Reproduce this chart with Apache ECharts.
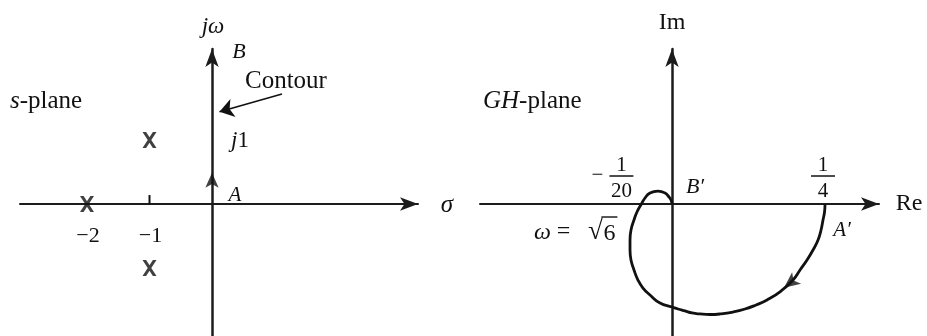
<!DOCTYPE html>
<html>
<head>
<meta charset="utf-8">
<script src="https://cdn.jsdelivr.net/npm/echarts@6/dist/echarts.min.js"></script>
<style>
  html, body { margin: 0; padding: 0; background: #fff; }
  #chart { width: 927px; height: 336px; }
</style>
</head>
<body>
<div id="chart"></div>
<script>
// ---- s-plane: open-loop poles of GH(s) ----
const sPoles = [[-2, 0], [-1, 1], [-1, -1]];
const sTickValues = [-2, -1];
const sTickLabels = ['−2', '−1'];
const sUnitMark = [0, 1];                 // j1 on the jω axis
const contourArrowAt = [0, 0.49];         // direction of travel along the contour
const contourPointer = [[1.12, 1.72], [0.12, 1.44]];

// ---- GH-plane: image of the contour, from A' (ω = 0) round to B' (ω → ∞) ----
const ghRe = [0.2500, 0.2492, 0.2467, 0.2435, 0.2386, 0.2304, 0.2206, 0.2092, 0.1977, 0.1781,
              0.1552, 0.1373, 0.1193, 0.0997, 0.0784, 0.0621, 0.0458, 0.0327, 0.0212, 0.0098,
              0.0000, -0.0196, -0.0359, -0.0474, -0.0556, -0.0621, -0.0670, -0.0686, -0.0686, -0.0670,
              -0.0621, -0.0572, -0.0500, -0.0441, -0.0359, -0.0229, -0.0114, -0.0049, -0.0016, 0.0000];
const ghIm = [0.0000, -0.0131, -0.0261, -0.0425, -0.0588, -0.0752, -0.0915, -0.1078, -0.1242, -0.1422,
              -0.1569, -0.1650, -0.1716, -0.1765, -0.1797, -0.1806, -0.1797, -0.1781, -0.1748, -0.1716,
              -0.1683, -0.1618, -0.1487, -0.1373, -0.1242, -0.1078, -0.0915, -0.0752, -0.0588, -0.0425,
              -0.0261, -0.0131, 0.0000, 0.0098, 0.0180, 0.0212, 0.0180, 0.0114, 0.0065, 0.0000];
const ghArrowAt = [0.1830, -0.1370];
const ghCrossings = [-0.05, 0.25];        // real-axis crossings
const ghCrossSign = ['−', ''];
const ghCrossNum = ['1', '1'];
const ghCrossDen = ['20', '4'];

const INK = '#111';
const AXIS = '#1c1c1c';
const SERIF = '"Liberation Serif", "DejaVu Serif", serif';

const ghCurve = ghRe.map((re, i) => [re, ghIm[i]]);

function axisLineStyle(width) {
  return {
    onZero: true,
    symbol: ['none', 'arrow'],
    symbolSize: [10, 18],
    lineStyle: { color: AXIS, width: width }
  };
}
function plainAxis(extra) {
  return Object.assign({
    type: 'value',
    axisTick: { show: false },
    axisLabel: { show: false },
    splitLine: { show: false }
  }, extra);
}

const chart = echarts.init(document.getElementById('chart'), null, { renderer: 'canvas' });

chart.setOption({
  animation: false,
  backgroundColor: '#fff',
  grid: [
    { left: 20, top: 49, width: 398, height: 287 },
    { left: 480, top: 49, width: 399, height: 287 }
  ],
  xAxis: [
    plainAxis({ gridIndex: 0, min: -3.072, max: 3.296, axisLine: axisLineStyle(2) }),
    plainAxis({ gridIndex: 1, min: -0.3137, max: 0.3382, axisLine: axisLineStyle(2) })
  ],
  yAxis: [
    plainAxis({ gridIndex: 0, min: -2.0625, max: 2.422, axisLine: axisLineStyle(2.5) }),
    plainAxis({ gridIndex: 1, min: -0.2157, max: 0.2533, axisLine: axisLineStyle(2.5) })
  ],
  series: [
    {
      // tick at σ = -1
      type: 'line', xAxisIndex: 0, yAxisIndex: 0, silent: true,
      data: [[sTickValues[1], 0], [sTickValues[1], 0.14]],
      showSymbol: false,
      lineStyle: { color: INK, width: 2 }
    },
    {
      // poles, drawn as bold crosses
      type: 'scatter', xAxisIndex: 0, yAxisIndex: 0, silent: true,
      data: sPoles,
      symbol: 'path://M0,0L3.6,0L14,16L10.4,16ZM10.4,0L14,0L3.6,16L0,16Z',
      symbolSize: [14, 16],
      itemStyle: { color: INK },
      z: 5
    },
    {
      // direction arrow on the jω axis
      type: 'scatter', xAxisIndex: 0, yAxisIndex: 0, silent: true,
      data: [contourArrowAt],
      symbol: 'arrow',
      symbolSize: [10, 15],
      itemStyle: { color: INK },
      z: 5
    },
    {
      // pointer from the "Contour" caption
      type: 'lines', coordinateSystem: 'cartesian2d', xAxisIndex: 0, yAxisIndex: 0, silent: true,
      data: [{ coords: contourPointer }],
      symbol: ['none', 'arrow'],
      symbolSize: [9, 14],
      lineStyle: { color: INK, width: 1.6, opacity: 1 },
      z: 5
    },
    {
      // Nyquist plot
      type: 'line', xAxisIndex: 1, yAxisIndex: 1, silent: true,
      data: ghCurve,
      smooth: 0.5,
      showSymbol: false,
      lineStyle: { color: INK, width: 2.8 },
      z: 4
    },
    {
      // direction arrow on the Nyquist plot
      type: 'scatter', xAxisIndex: 1, yAxisIndex: 1, silent: true,
      data: [ghArrowAt],
      symbol: 'arrow',
      symbolSize: [11, 16],
      symbolRotate: 128,
      itemStyle: { color: INK },
      z: 5
    }
  ]
});

// ---- annotations, placed from data anchors ----
function px(grid, pt) {
  return chart.convertToPixel({ xAxisIndex: grid, yAxisIndex: grid }, pt);
}
function text(str, x, y, size, opts) {
  return {
    type: 'text', silent: true, z: 10,
    style: Object.assign({
      text: str, x: x, y: y,
      fontSize: size, fontFamily: SERIF, fontStyle: 'normal',
      fill: INK,
      align: 'center', verticalAlign: 'middle',
      textAlign: 'center', textVerticalAlign: 'middle'
    }, opts || {})
  };
}
function rich(size) {
  return {
    i: { fontSize: size, fontFamily: SERIF, fontStyle: 'italic', fill: INK, color: INK },
    r: { fontSize: size, fontFamily: SERIF, fontStyle: 'normal', fill: INK, color: INK }
  };
}
function bar(x1, x2, y, w) {
  return { type: 'line', silent: true, z: 10, shape: { x1: x1, y1: y, x2: x2, y2: y }, style: { stroke: INK, lineWidth: w || 1.5 } };
}

const g = [];
const sO = px(0, [0, 0]);
const gO = px(1, [0, 0]);

// s-plane captions
g.push(text('{i|s}{r|-plane}', 10, 101, 25, { align: 'left', textAlign: 'left', rich: rich(25) }));
g.push(text('jω', sO[0] + 1, 27, 23, { fontStyle: 'italic' }));
g.push(text('B', sO[0] + 27, 52, 22, { fontStyle: 'italic' }));
g.push(text('Contour', 245, 81, 25, { align: 'left', textAlign: 'left' }));
const j1 = px(0, sUnitMark);
g.push(text('{i|j}{r|1}', j1[0] + 28, j1[1] + 1, 23, { rich: rich(23) }));
g.push(text('A', sO[0] + 23, sO[1] - 9, 21, { fontStyle: 'italic' }));
g.push(text('σ', sO[0] + 235, sO[1] + 1, 25, { fontStyle: 'italic' }));
sTickValues.forEach((v, i) => {
  const p = px(0, [v, 0]);
  g.push(text(sTickLabels[i], p[0] + 1, p[1] + 32, 22));
});

// GH-plane captions
g.push(text('{i|GH}{r|-plane}', 483, 101, 25, { align: 'left', textAlign: 'left', rich: rich(25) }));
g.push(text('Im', gO[0], 23, 24));
g.push(text('Re', gO[0] + 237, gO[1], 24));
g.push(text('B′', gO[0] + 23, gO[1] - 17, 22, { fontStyle: 'italic' }));
const aP = px(1, [ghCrossings[1], 0]);
g.push(text('A′', aP[0] + 17, aP[1] + 26, 21, { fontStyle: 'italic' }));

ghCrossings.forEach((v, i) => {
  const p = px(1, [v, 0]);
  const cx = i === 0 ? p[0] - 20 : p[0] - 2;
  g.push(text(ghCrossNum[i], cx, p[1] - 39, 21));
  g.push(bar(cx - 12, cx + 12, p[1] - 28));
  g.push(text(ghCrossDen[i], cx, p[1] - 13, 21));
  if (ghCrossSign[i]) g.push(text(ghCrossSign[i], cx - 24, p[1] - 29, 21));
});

// frequency at the negative-real-axis crossing
const wP = px(1, [ghCrossings[0], 0]);
g.push(text('ω', wP[0] - 99, wP[1] + 29, 24, { fontStyle: 'italic' }));
g.push(text('=', wP[0] - 78, wP[1] + 28, 24));
g.push(text('√', wP[0] - 46, wP[1] + 28, 27));
g.push(text('6', wP[0] - 32, wP[1] + 30, 24));
g.push(bar(wP[0] - 40, wP[0] - 24, wP[1] + 13, 1.4));

chart.setOption({ graphic: g });
</script>
</body>
</html>
